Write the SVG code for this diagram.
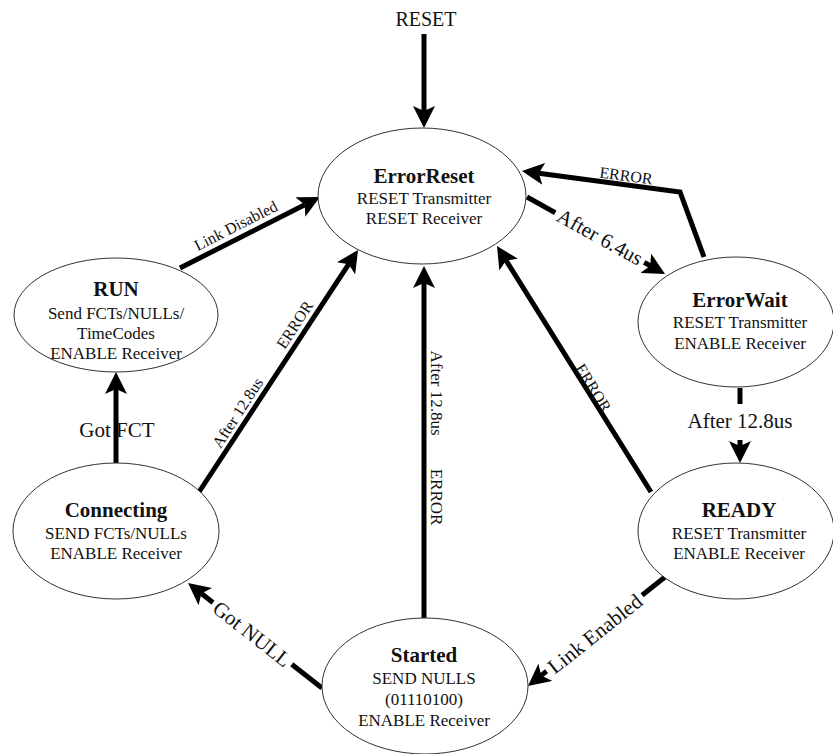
<svg xmlns="http://www.w3.org/2000/svg" width="833" height="754" viewBox="0 0 833 754">
<style>
  .node ellipse { fill: #fff; stroke: #333; stroke-width: 1; }
  text { font-family: "Liberation Serif", "Times New Roman", serif; fill: #111; text-anchor: middle; }
  .title { font-weight: bold; font-size: 21px; }
  .body { font-size: 17px; }
  .edge { fill: none; stroke: #000; stroke-width: 5; }
  .lbl-s { font-size: 16px; }
  .lbl-m { font-size: 17px; }
  .lbl-l { font-size: 21px; }
  .mask { fill: #fff; stroke: none; }
</style>
<defs>
  <marker id="arr" viewBox="0 0 22 22" refX="5" refY="11" markerWidth="22" markerHeight="22" markerUnits="userSpaceOnUse" orient="auto">
    <path d="M0,0 L22,11 L0,22 L5,11 z" fill="#000"/>
  </marker>
</defs>

<text x="426" y="26" style="font-size:20px">RESET</text>

<g id="connectors">
  <line class="edge" x1="424" y1="34" x2="424" y2="111" marker-end="url(#arr)"/>
  <line class="edge" x1="180" y1="268" x2="304.8" y2="204.7" marker-end="url(#arr)"/>
  <polyline class="edge" points="704,257 680,192 538.8,173.2" marker-end="url(#arr)"/>
  <line class="edge" x1="527" y1="197" x2="650.2" y2="265.7" marker-end="url(#arr)"/>
  <line class="edge" x1="740" y1="388" x2="740" y2="404"/>
  <line class="edge" x1="740" y1="440" x2="740" y2="446" marker-end="url(#arr)"/>
  <line class="edge" x1="651" y1="492" x2="506" y2="260.4" marker-end="url(#arr)"/>
  <line class="edge" x1="424" y1="618" x2="424" y2="283" marker-end="url(#arr)"/>
  <line class="edge" x1="199" y1="492" x2="348.7" y2="264.2" marker-end="url(#arr)"/>
  <line class="edge" x1="116" y1="463" x2="116" y2="389" marker-end="url(#arr)"/>
  <line class="edge" x1="322" y1="688" x2="201.4" y2="593.5" marker-end="url(#arr)"/>
  <line class="edge" x1="665" y1="577" x2="541.3" y2="675.4" marker-end="url(#arr)"/>

  <rect class="mask" transform="translate(600,237) rotate(29)" x="-51" y="-9" width="102" height="18"/>
  <rect class="mask" transform="translate(252,634) rotate(38)" x="-50" y="-9" width="100" height="18"/>
  <rect class="mask" transform="translate(595,634) rotate(-38.5)" x="-61" y="-9" width="122" height="18"/>

  <text class="lbl-s" transform="translate(236,226) rotate(-27)" y="5">Link Disabled</text>
  <text class="lbl-s" transform="translate(626,176) rotate(7.6)" y="5">ERROR</text>
  <text class="lbl-l" transform="translate(600,237) rotate(29)" y="7">After 6.4us</text>
  <text class="lbl-l" x="740" y="428">After 12.8us</text>
  <text class="lbl-s" transform="translate(593,388) rotate(58)" y="5">ERROR</text>
  <text class="lbl-m" transform="translate(437,393) rotate(90)" y="6">After 12.8us</text>
  <text class="lbl-m" transform="translate(437,497) rotate(90)" y="6">ERROR</text>
  <text class="lbl-s" transform="translate(238,413) rotate(-57)" y="5">After 12.8us</text>
  <text class="lbl-s" transform="translate(295,325) rotate(-57)" y="5">ERROR</text>
  <text class="lbl-l" x="117" y="437">Got FCT</text>
  <text class="lbl-l" transform="translate(252,634) rotate(38)" y="7">Got NULL</text>
  <text class="lbl-l" transform="translate(595,634) rotate(-38.5)" y="7">Link Enabled</text>
</g>

<g id="ErrorReset" class="node">
  <ellipse cx="422" cy="196" rx="104" ry="68"/>
  <text class="title" x="424" y="183">ErrorReset</text>
  <text class="body" x="424" y="204">RESET Transmitter</text>
  <text class="body" x="424" y="224">RESET Receiver</text>
</g>

<g id="RUN" class="node">
  <ellipse cx="116" cy="315" rx="102" ry="57"/>
  <text class="title" x="116" y="296">RUN</text>
  <text class="body" x="116" y="319">Send FCTs/NULLs/</text>
  <text class="body" x="116" y="339">TimeCodes</text>
  <text class="body" x="116" y="359">ENABLE Receiver</text>
</g>

<g id="ErrorWait" class="node">
  <ellipse cx="736" cy="322" rx="98" ry="65"/>
  <text class="title" x="740" y="307">ErrorWait</text>
  <text class="body" x="740" y="328">RESET Transmitter</text>
  <text class="body" x="740" y="349">ENABLE Receiver</text>
</g>

<g id="READY" class="node">
  <ellipse cx="736" cy="531" rx="98" ry="68"/>
  <text class="title" x="739" y="517">READY</text>
  <text class="body" x="739" y="539">RESET Transmitter</text>
  <text class="body" x="739" y="559">ENABLE Receiver</text>
</g>

<g id="Connecting" class="node">
  <ellipse cx="116" cy="531" rx="103" ry="68"/>
  <text class="title" x="116" y="517">Connecting</text>
  <text class="body" x="116" y="539">SEND FCTs/NULLs</text>
  <text class="body" x="116" y="559">ENABLE Receiver</text>
</g>

<g id="Started" class="node">
  <ellipse cx="425" cy="686" rx="103" ry="68"/>
  <text class="title" x="424" y="662">Started</text>
  <text class="body" x="424" y="684">SEND NULLS</text>
  <text class="body" x="424" y="705">(01110100)</text>
  <text class="body" x="424" y="726">ENABLE Receiver</text>
</g>
</svg>
